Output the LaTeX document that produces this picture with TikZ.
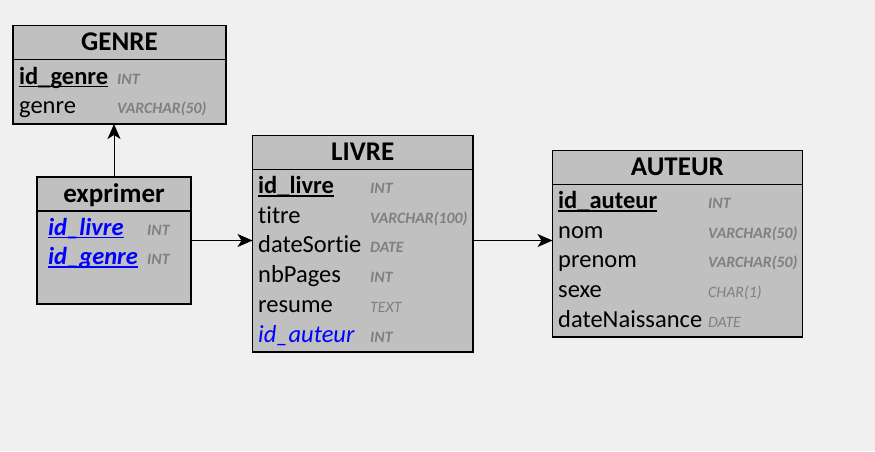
\documentclass[tikz,border=0pt]{standalone}
\usepackage{fontspec}
\setmainfont[Ligatures=NoCommon]{Carlito}
\usepackage{xcolor}
\usepackage{tikz}
\usetikzlibrary{arrows.meta}
\usetikzlibrary{calc}

\definecolor{bgcol}{HTML}{F0F0F0}
\definecolor{tblfill}{HTML}{C0C0C0}
\definecolor{typecol}{HTML}{808080}
\definecolor{fkcol}{HTML}{0000FF}
\newcommand\pkey[1]{\setbox0\hbox{#1}\rlap{\rule[-3.2pt]{\wd0}{1.5pt}}\box0}

\begin{document}
\begin{tikzpicture}[x=1pt,y=-1pt,
        tbl/.style={draw=black,line width=1.2pt,fill=tblfill,anchor=north west,inner sep=0pt,outer sep=0pt},
        ttl/.style={anchor=base,inner sep=0pt,font=\fontsize{27}{30}\selectfont\bfseries},
        fld/.style={anchor=base west,inner sep=0pt,font=\fontsize{24.5}{29}\selectfont},
        typ/.style={anchor=base west,inner sep=0pt,text=typecol,font=\fontsize{15.8}{19}\selectfont\bfseries\itshape},
        typl/.style={typ,font=\fontsize{15.8}{19}\selectfont\itshape},
        lnk/.style={line width=1pt,-{Stealth[length=15pt,width=13pt,inset=4pt]}}]
        \fill[bgcol] (0,0) rectangle (875,451);
        \useasboundingbox (0,0) rectangle (875,451);
        % tables
        \node[tbl,minimum width=213pt,minimum height=98.3pt] (genre) at (13,25.7) {};
        \node[tbl,minimum width=154pt,minimum height=127pt] (exprimer) at (37,177) {};
        \node[tbl,minimum width=220.5pt,minimum height=216.3pt] (livre) at (252.5,135.7) {};
        \node[tbl,minimum width=249.8pt,minimum height=186.3pt] (auteur) at (552.5,150.7) {};
        \draw[line width=1.2pt] ([yshift=-33.5pt]genre.north west) -- ([yshift=-33.5pt]genre.north east);
        \draw[line width=1.2pt] ([yshift=-34pt]exprimer.north west) -- ([yshift=-34pt]exprimer.north east);
        \draw[line width=1.2pt] ([yshift=-33.5pt]livre.north west) -- ([yshift=-33.5pt]livre.north east);
        \draw[line width=1.2pt] ([yshift=-33.5pt]auteur.north west) -- ([yshift=-33.5pt]auteur.north east);
        % GENRE
        \node[ttl] (genre-t) at (119.5,50.7) {GENRE};
        \node[fld,font=\fontsize{24.5}{29}\selectfont\bfseries] (genre-id) at (19,84) {\pkey{id\_genre}};
        \node[typ] (genre-idt) at (117,84) {INT};
        \node[fld] (genre-g) at (19,113.7) {genre};
        \node[typ] (genre-gt) at (117,113.7) {VARCHAR(50)};
        % exprimer
        \node[ttl] (exprimer-t) at (114,202) {exprimer};
        \node[fld,text=fkcol,font=\fontsize{24.5}{29}\selectfont\bfseries\itshape] (exprimer-l) at (48,235) {\pkey{id\_livre}};
        \node[typ] (exprimer-lt) at (147,235) {INT};
        \node[fld,text=fkcol,font=\fontsize{24.5}{29}\selectfont\bfseries\itshape] (exprimer-g) at (48,264.7) {\pkey{id\_genre}};
        \node[typ] (exprimer-gt) at (147,264.7) {INT};
        % LIVRE
        \node[ttl] (livre-t) at (362.7,160.7) {LIVRE};
        \node[fld,font=\fontsize{24.5}{29}\selectfont\bfseries] (livre-id) at (258,193.5) {\pkey{id\_livre}};
        \node[typ] (livre-idt) at (370,193.5) {INT};
        \node[fld] (livre-ti) at (258,223.2) {titre};
        \node[typ] (livre-tit) at (370,223.2) {VARCHAR(100)};
        \node[fld] (livre-ds) at (258,252.9) {dateSortie};
        \node[typ] (livre-dst) at (370,252.9) {DATE};
        \node[fld] (livre-nb) at (258,282.6) {nbPages};
        \node[typ] (livre-nbt) at (370,282.6) {INT};
        \node[fld] (livre-re) at (258,312.3) {resume};
        \node[typl] (livre-ret) at (370,312.3) {TEXT};
        \node[fld,text=fkcol,font=\fontsize{24.5}{29}\selectfont\itshape] (livre-au) at (258,342) {id\_auteur};
        \node[typ] (livre-aut) at (370,342) {INT};
        % AUTEUR
        \node[ttl] (auteur-t) at (677.4,175.7) {AUTEUR};
        \node[fld,font=\fontsize{24.5}{29}\selectfont\bfseries] (auteur-id) at (558,208.5) {\pkey{id\_auteur}};
        \node[typ] (auteur-idt) at (708,208.5) {INT};
        \node[fld] (auteur-no) at (558,238.2) {nom};
        \node[typ] (auteur-not) at (708,238.2) {VARCHAR(50)};
        \node[fld] (auteur-pr) at (558,267.9) {prenom};
        \node[typ] (auteur-prt) at (708,267.9) {VARCHAR(50)};
        \node[fld] (auteur-se) at (558,297.6) {sexe};
        \node[typl] (auteur-set) at (708,297.6) {CHAR(1)};
        \node[fld] (auteur-dn) at (558,327.3) {dateNaissance};
        \node[typl] (auteur-dnt) at (708,327.3) {DATE};
        % links
        \draw[lnk] (exprimer.north) -- (exprimer.north |- genre.south);
        \draw[lnk] (exprimer.east) -- (exprimer.east -| livre.west);
        \draw[lnk] (livre.east |- exprimer.east) -- (exprimer.east -| auteur.west);
\end{tikzpicture}
\end{document}
